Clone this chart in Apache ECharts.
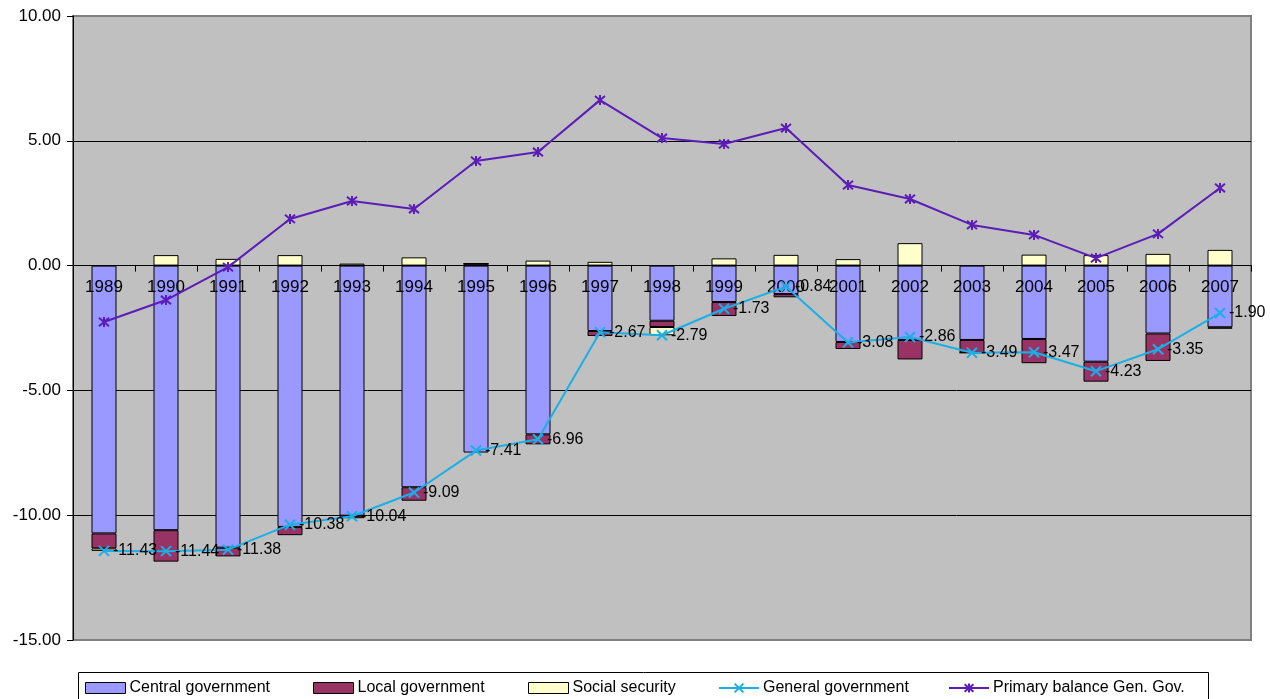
<!DOCTYPE html>
<html>
<head>
<meta charset="utf-8">
<script src="https://cdn.jsdelivr.net/npm/echarts@6/dist/echarts.min.js"></script>
<style>
html,body{margin:0;padding:0;background:#fff;}
#chart{width:1270px;height:699px;}
</style>
</head>
<body>
<div id="chart"></div>
<script>
var years = ['1989','1990','1991','1992','1993','1994','1995','1996','1997','1998','1999','2000','2001','2002','2003','2004','2005','2006','2007'];
var centralGov = [-10.73,-10.60,-11.30,-10.47,-10.02,-8.88,-7.49,-6.76,-2.62,-2.21,-1.46,-1.14,-3.06,-2.98,-2.98,-2.94,-3.85,-2.72,-2.47];
var localGov   = [-0.60,-1.26,-0.35,-0.33,-0.10,-0.54,0.08,-0.40,-0.20,-0.25,-0.56,-0.13,-0.28,-0.78,-0.51,-0.97,-0.80,-1.10,-0.06];
var socialSec  = [-0.10,0.42,0.27,0.42,0.08,0.33,0,0.20,0.15,-0.33,0.29,0.43,0.26,0.90,0,0.44,0.42,0.47,0.63];
var generalGov = [-11.43,-11.44,-11.38,-10.38,-10.04,-9.09,-7.41,-6.96,-2.67,-2.79,-1.73,-0.84,-3.08,-2.86,-3.49,-3.47,-4.23,-3.35,-1.90];
var primaryBal = [-2.26,-1.38,-0.06,1.87,2.59,2.27,4.19,4.55,6.63,5.11,4.87,5.51,3.23,2.67,1.63,1.23,0.30,1.27,3.11];

var FONT = 'Liberation Sans, Arial, sans-serif';
var crossPath = 'path://M0,0L10,10M10,0L0,10';
var starPath = 'path://M0,0L10,10M10,0L0,10M5,-1L5,11';

var Y_MIN = -15, Y_MAX = 10;
var GRID_TOP = 16, GRID_BOTTOM = 59, H = 699;
var plotH = H - GRID_TOP - GRID_BOTTOM;
// shift the category axis up to the zero line
var zeroOffset = -plotH * (0 - Y_MIN) / (Y_MAX - Y_MIN);

var chart = echarts.init(document.getElementById('chart'));

function legendAt(name, left, icon) {
  return {
    data: [icon ? {name: name, icon: icon, itemStyle: {borderWidth: 1}} : name],
    left: left,
    top: 680,
    padding: 0,
    itemWidth: 40,
    itemHeight: 11,
    itemGap: 4,
    textStyle: {fontFamily: FONT, fontSize: 16, color: '#000', padding: [0,0,0,-1]},
    selectedMode: false
  };
}

var barStyle = function (c) { return {color: c, borderColor: '#000', borderWidth: 1}; };

chart.setOption({
  backgroundColor: '#fff',
  animation: false,
  textStyle: {fontFamily: FONT},
  grid: {left: 73, right: 19, top: GRID_TOP, bottom: GRID_BOTTOM, show: true, backgroundColor: '#C0C0C0', borderColor: '#808080', borderWidth: 2},
  graphic: [{
    type: 'rect',
    shape: {x: 78.5, y: 672.5, width: 1130, height: 40},
    style: {fill: 'none', stroke: '#000', lineWidth: 1},
    z: -1
  }],
  legend: [
    legendAt('Central government', 85, 'rect'),
    legendAt('Local government', 313, 'rect'),
    legendAt('Social security', 528, 'rect'),
    legendAt('General government', 718),
    legendAt('Primary balance Gen. Gov.', 948)
  ],
  xAxis: {
    type: 'category',
    data: years,
    boundaryGap: true,
    offset: zeroOffset,
    axisLine: {onZero: false, lineStyle: {color: '#000', width: 1}},
    axisTick: {show: true, inside: false, length: 6, lineStyle: {color: '#000'}},
    axisLabel: {interval: 0, margin: 13, fontFamily: FONT, fontSize: 17, color: '#000'},
    splitLine: {show: false},
    z: 3
  },
  yAxis: {
    type: 'value',
    min: Y_MIN, max: Y_MAX, interval: 5,
    axisLine: {show: true, lineStyle: {color: '#000', width: 1}},
    axisTick: {show: true, length: 6, lineStyle: {color: '#000'}},
    axisLabel: {margin: 12, fontFamily: FONT, fontSize: 17, color: '#000', formatter: function (v) { return v.toFixed(2); }},
    splitLine: {show: true, lineStyle: {color: ['#808080','#000','#000','#000','#000','#808080'], width: 1}}
  },
  series: [
    {name: 'Central government', type: 'bar', stack: 'gov', data: centralGov, barWidth: 25, itemStyle: barStyle('#9999FF'), z: 2},
    {name: 'Local government', type: 'bar', stack: 'gov', data: localGov, barWidth: 25, itemStyle: barStyle('#993366'), z: 2},
    {name: 'Social security', type: 'bar', stack: 'gov', data: socialSec, barWidth: 25, itemStyle: barStyle('#FFFFCC'), z: 2},
    {
      name: 'General government', type: 'line', data: generalGov, z: 5,
      symbol: crossPath, symbolSize: 10,
      lineStyle: {color: '#1AAFE6', width: 2},
      itemStyle: {color: '#1AAFE6', borderColor: '#1AAFE6', borderWidth: 2},
      label: {show: true, position: 'right', distance: 3, fontFamily: FONT, fontSize: 16, color: '#000',
        formatter: function (p) { return p.value.toFixed(2); }}
    },
    {
      name: 'Primary balance Gen. Gov.', type: 'line', data: primaryBal, z: 5,
      symbol: starPath, symbolSize: 10,
      lineStyle: {color: '#5B1CB8', width: 2},
      itemStyle: {color: '#5B1CB8', borderColor: '#5B1CB8', borderWidth: 2}
    }
  ]
});
</script>
</body>
</html>
